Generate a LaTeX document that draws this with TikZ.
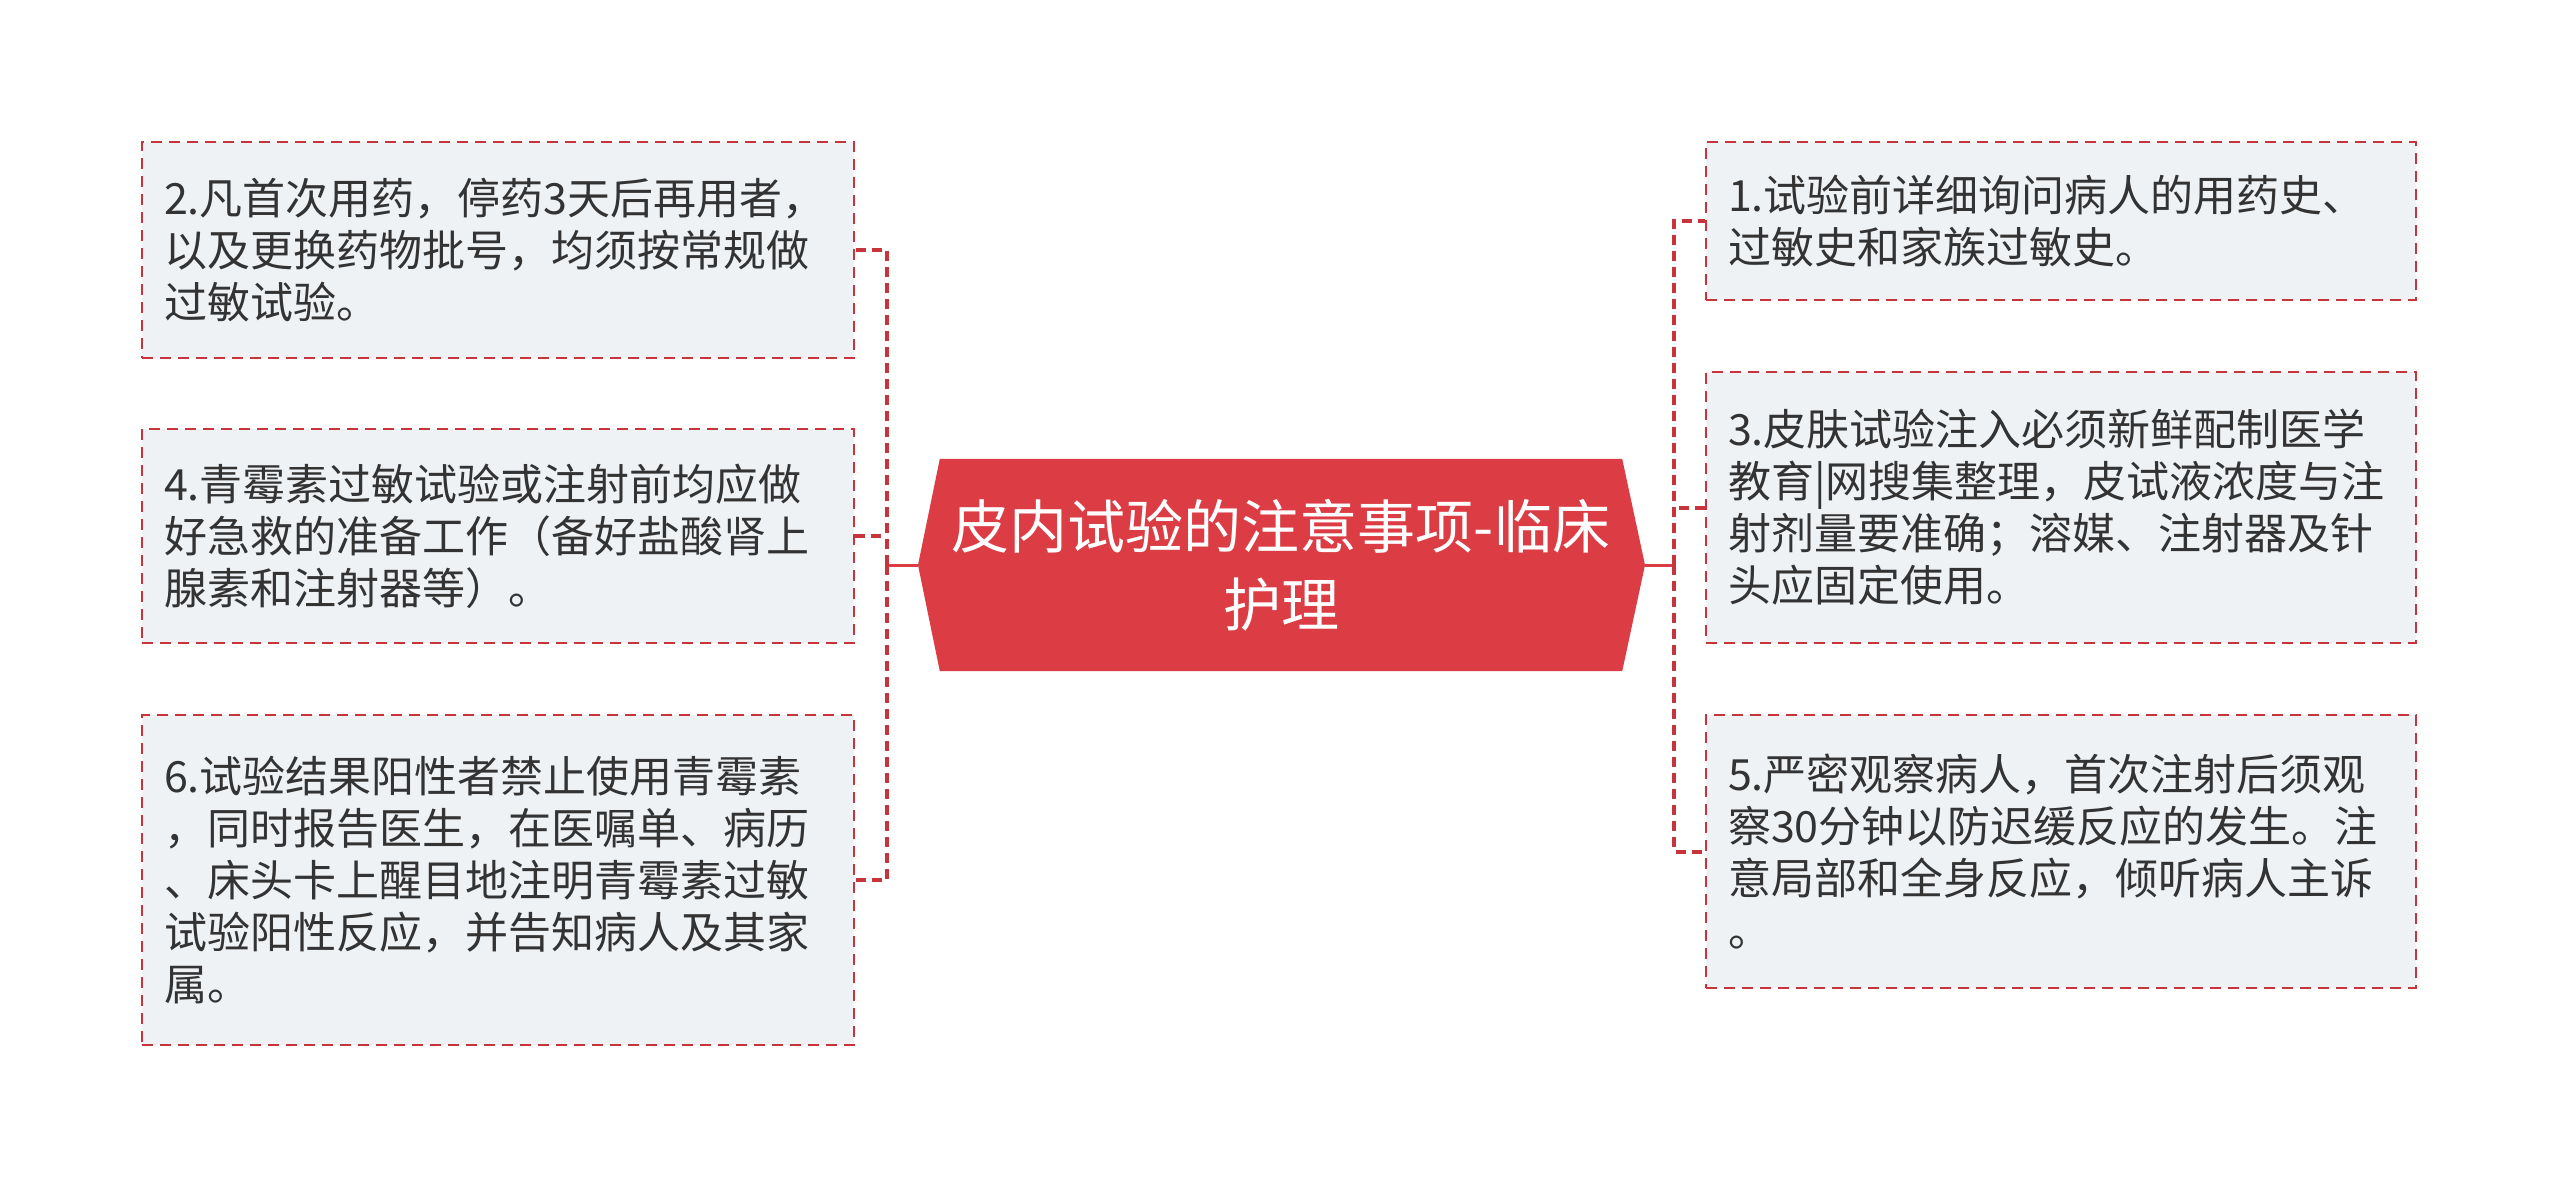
\documentclass[tikz,border=0pt]{standalone}
\usepackage{fontspec}
\newfontfamily\cjk{Noto Sans CJK SC}
\definecolor{hexred}{RGB}{220,60,68}
\definecolor{dashred}{RGB}{200,52,60}
\definecolor{boxfill}{RGB}{239,242,245}
\definecolor{txt}{RGB}{51,51,51}
\begin{document}
\begin{tikzpicture}[x=1pt,y=-1pt,
  leaf/.style={draw=dashred, fill=boxfill, line width=2.3pt, dash pattern=on 11pt off 7pt, rectangle, inner sep=0pt, minimum width=712pt},
  leaftext/.style={anchor=west, align=left, inner sep=0pt, text=txt, font=\cjk\fontsize{43}{52}\selectfont},
  conn/.style={draw=dashred, line width=4pt, dash pattern=on 10pt off 6pt},
  stem/.style={draw=hexred, line width=3pt}]
\useasboundingbox[fill=white] (0,0) rectangle (2560,1189);

% centre
\node[minimum width=682pt, minimum height=212pt, inner sep=0pt] (C) at (1281,565) {};
\coordinate (cL) at (918,565);
\coordinate (cR) at (1645,565);
\fill[hexred] (cL) -- (C.north west) -- (C.north east) -- (cR) -- (C.south east) -- (C.south west) -- cycle;
\node[align=center, text=white, font=\cjk\fontsize{58}{78}\selectfont] (Ct) at (C) {皮内试验的注意事项-临床\\护理};

% left boxes
\node[leaf, minimum height=216pt] (L1) at (498,250) {};
\node[leaf, minimum height=214pt] (L2) at (498,536) {};
\node[leaf, minimum height=330pt] (L3) at (498,880) {};
\node[leaftext] (L1t) at ([xshift=23pt]L1.west) {2.凡首次用药，停药3天后再用者，\\以及更换药物批号，均须按常规做\\过敏试验。};
\node[leaftext] (L2t) at ([xshift=23pt]L2.west) {4.青霉素过敏试验或注射前均应做\\好急救的准备工作（备好盐酸肾上\\腺素和注射器等）。};
\node[leaftext] (L3t) at ([xshift=23pt]L3.west) {6.试验结果阳性者禁止使用青霉素\\，同时报告医生，在医嘱单、病历\\、床头卡上醒目地注明青霉素过敏\\试验阳性反应，并告知病人及其家\\属。};

% right boxes
\node[leaf, minimum width=710pt, minimum height=158pt] (R1) at (2061,221) {};
\node[leaf, minimum width=710pt, minimum height=271pt] (R2) at (2061,507.5) {};
\node[leaf, minimum width=710pt, minimum height=273pt] (R3) at (2061,851.5) {};
\node[leaftext] (R1t) at ([xshift=23pt]R1.west) {1.试验前详细询问病人的用药史、\\过敏史和家族过敏史。};
\node[leaftext] (R2t) at ([xshift=23pt]R2.west) {3.皮肤试验注入必须新鲜配制医学\\教育|网搜集整理，皮试液浓度与注\\射剂量要准确；溶媒、注射器及针\\头应固定使用。};
\node[leaftext] (R3t) at ([xshift=23pt]R3.west) {5.严密观察病人，首次注射后须观\\察30分钟以防迟缓反应的发生。注\\意局部和全身反应，倾听病人主诉\\。};

% connectors left
\coordinate (lt) at (887,565);
\draw[stem] (cL) -- (lt);
\draw[conn] (lt) -- (L1.east -| lt) -- (L1.east);
\draw[conn] (lt) -- (L3.east -| lt) -- (L3.east);
\draw[conn] (L2.east) -- (L2.east -| lt);

% connectors right
\coordinate (rt) at (1674,565);
\draw[stem] (cR) -- (rt);
\draw[conn] (rt) -- (R1.west -| rt) -- (R1.west);
\draw[conn] (rt) -- (R3.west -| rt) -- (R3.west);
\draw[conn] (R2.west) -- (R2.west -| rt);
\end{tikzpicture}
\end{document}
